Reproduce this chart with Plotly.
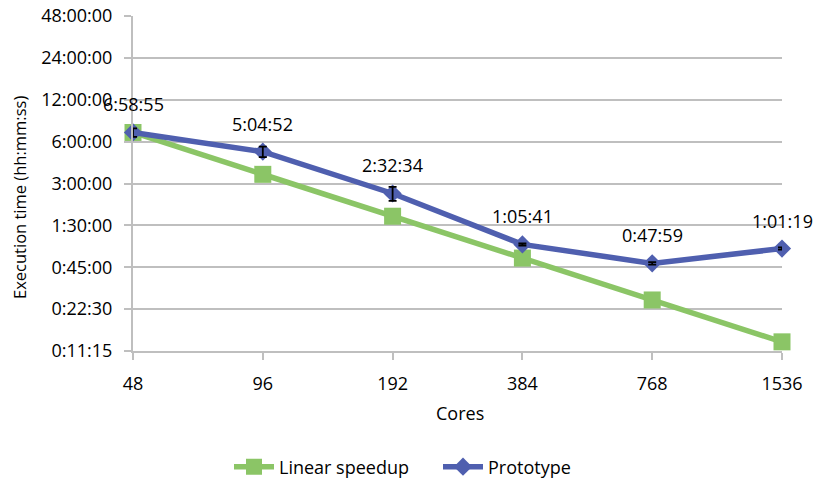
import math
import plotly.graph_objects as go

# Number of cores used in each run
cores = ["48", "96", "192", "384", "768", "1536"]

# Measured prototype execution times (h:mm:ss)
prototype_times = ["6:58:55", "5:04:52", "2:32:34", "1:05:41", "0:47:59", "1:01:19"]

# Spread of the prototype runs, in seconds
prototype_err = [1750, 1600, 1050, 70, 60, 70]

# Y-axis tick labels (h:mm:ss)
y_tick_labels = ["0:11:15", "0:22:30", "0:45:00", "1:30:00", "3:00:00",
                 "6:00:00", "12:00:00", "24:00:00", "48:00:00"]


def to_seconds(hms):
    h, m, s = (int(p) for p in hms.split(":"))
    return h * 3600 + m * 60 + s


proto_sec = [to_seconds(t) for t in prototype_times]
# Ideal scaling: the 48-core time halves each time the core count doubles
linear_sec = [proto_sec[0] / (2 ** i) for i in range(len(cores))]
y_tick_vals = [to_seconds(t) for t in y_tick_labels]

GREEN = "#8BC566"
BLUE = "#4F5FAF"
GRID = "#BFBFBF"
FONT = "Open Sans"
FS = 18

fig = go.Figure()

fig.add_trace(go.Scatter(
    x=cores, y=linear_sec, name="Linear speedup", mode="lines+markers",
    line=dict(color=GREEN, width=5.5),
    marker=dict(symbol="square", size=17, color=GREEN),
    cliponaxis=False,
))

fig.add_trace(go.Scatter(
    x=cores, y=proto_sec, name="Prototype", mode="lines+markers",
    line=dict(color=BLUE, width=5.5),
    marker=dict(symbol="diamond", size=14, color=BLUE),
    cliponaxis=False,
))

# Error bars drawn as a separate layer so they sit on top of the markers
fig.add_trace(go.Scatter(
    x=cores, y=proto_sec, mode="markers", showlegend=False, hoverinfo="skip",
    marker=dict(size=1, color="rgba(0,0,0,0)"),
    error_y=dict(type="data", array=prototype_err, visible=True,
                 color="black", thickness=1.8, width=4),
    cliponaxis=False,
))

# Value labels above each prototype point (x given as category index)
annotations = []
for i, (sec, lab) in enumerate(zip(proto_sec, prototype_times)):
    annotations.append(dict(
        x=i, y=math.log10(sec), xref="x", yref="y",
        text=lab, showarrow=False, yshift=28, yanchor="middle",
        font=dict(family=FONT, size=FS, color="#000000"),
    ))

annotations.append(dict(
    x=(19 - 133) / 649, y=(351 - 198) / 335, xref="paper", yref="paper",
    text="Execution time (hh:mm:ss)", textangle=-90, showarrow=False,
    xanchor="center", yanchor="middle",
    font=dict(family=FONT, size=16.5, color="#000000"),
))
annotations.append(dict(
    x=(460 - 133) / 649, y=(351 - 413) / 335, xref="paper", yref="paper",
    text="Cores", showarrow=False, xanchor="center", yanchor="middle",
    font=dict(family=FONT, size=FS, color="#000000"),
))

fig.update_layout(
    width=814, height=484,
    margin=dict(l=133, r=32, t=16, b=133),
    paper_bgcolor="white", plot_bgcolor="white",
    font=dict(family=FONT, size=FS, color="#000000"),
    showlegend=True,
    legend=dict(orientation="h", xref="container", yref="container",
                x=229 / 814, xanchor="left",
                y=1 - 467 / 484, yanchor="middle",
                font=dict(family=FONT, size=FS), itemwidth=40,
                entrywidth=154),
    annotations=annotations,
    xaxis=dict(
        type="category", range=[0, len(cores) - 1], automargin=False,
        showgrid=False, showline=True, linecolor=GRID, linewidth=2,
        ticks="outside", ticklen=7, tickcolor=GRID, tickwidth=2,
        ticklabelstandoff=8, tickfont=dict(family=FONT, size=FS),
        zeroline=False,
    ),
    yaxis=dict(
        type="log", automargin=False,
        range=[math.log10(y_tick_vals[0]), math.log10(y_tick_vals[-1])],
        tickvals=y_tick_vals, ticktext=y_tick_labels,
        showgrid=True, gridcolor=GRID, gridwidth=2,
        showline=True, linecolor=GRID, linewidth=2,
        ticks="outside", ticklen=7, tickcolor=GRID, tickwidth=2,
        ticklabelstandoff=8, tickfont=dict(family=FONT, size=FS),
        zeroline=False,
    ),
)

fig.write_html("out.html")
